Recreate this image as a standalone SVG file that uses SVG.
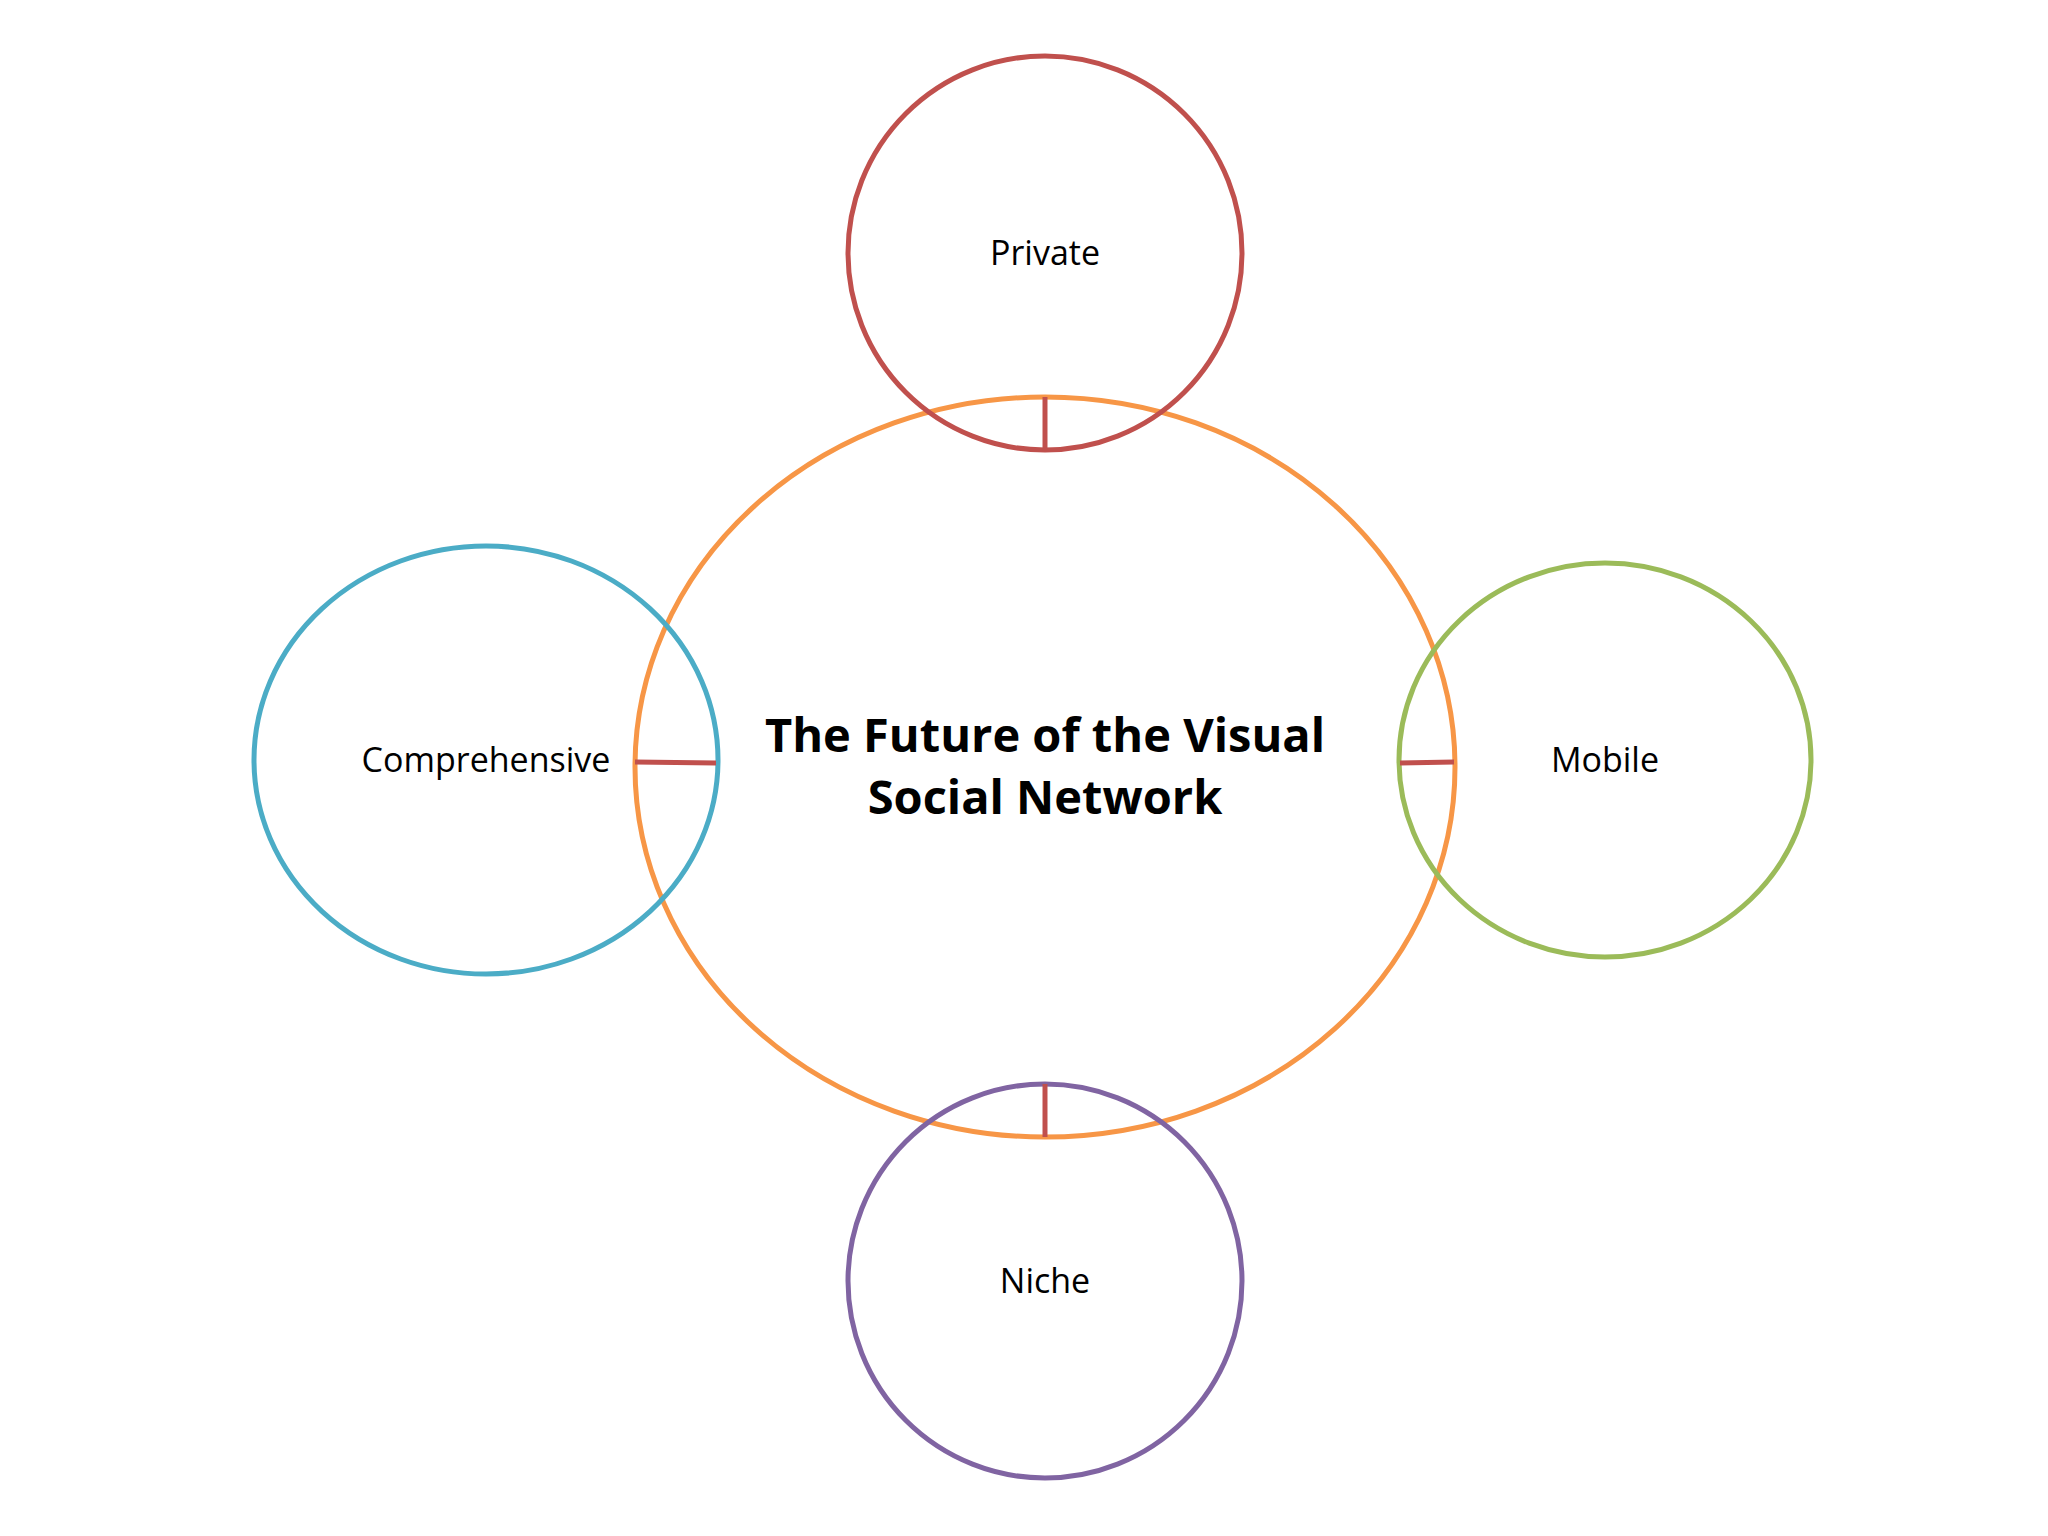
<svg xmlns="http://www.w3.org/2000/svg" width="2048" height="1536" viewBox="0 0 2048 1536">
<style>
.n{fill:none;stroke-width:5}
.t{font-family:"Open Sans","Liberation Sans",sans-serif;font-size:34px;fill:#000;text-anchor:middle}
.h{font-family:"Open Sans","Liberation Sans",sans-serif;font-size:47px;font-weight:bold;fill:#000;text-anchor:middle}
.c{stroke:#C0504D;stroke-width:5}
</style>
<rect width="2048" height="1536" fill="#fff"/>
<g id="center"><ellipse class="n" cx="1045" cy="767" rx="410" ry="370" stroke="#F79646"/>
<text class="h" x="1045" y="752">The Future of the Visual</text><text class="h" x="1045" y="814">Social Network</text></g>
<g id="private"><circle class="n" cx="1045" cy="253" r="197" stroke="#C0504D"/><text class="t" x="1045" y="265">Private</text></g>
<g id="niche"><circle class="n" cx="1045" cy="1281" r="197" stroke="#8064A2"/><text class="t" x="1045" y="1293">Niche</text></g>
<g id="comprehensive"><ellipse class="n" cx="486" cy="760" rx="232" ry="214" stroke="#4BACC6"/><text class="t" x="486" y="772">Comprehensive</text></g>
<g id="mobile"><ellipse class="n" cx="1605" cy="760" rx="206" ry="197" stroke="#9BBB59"/><text class="t" x="1605" y="772">Mobile</text></g>
<g id="connectors">
<line class="c" x1="1045" y1="397" x2="1045" y2="451"/>
<line class="c" x1="1045" y1="1084" x2="1045" y2="1137"/>
<line class="c" x1="635" y1="762" x2="716" y2="763"/>
<line class="c" x1="1400" y1="763" x2="1454" y2="762"/>
</g>
</svg>
